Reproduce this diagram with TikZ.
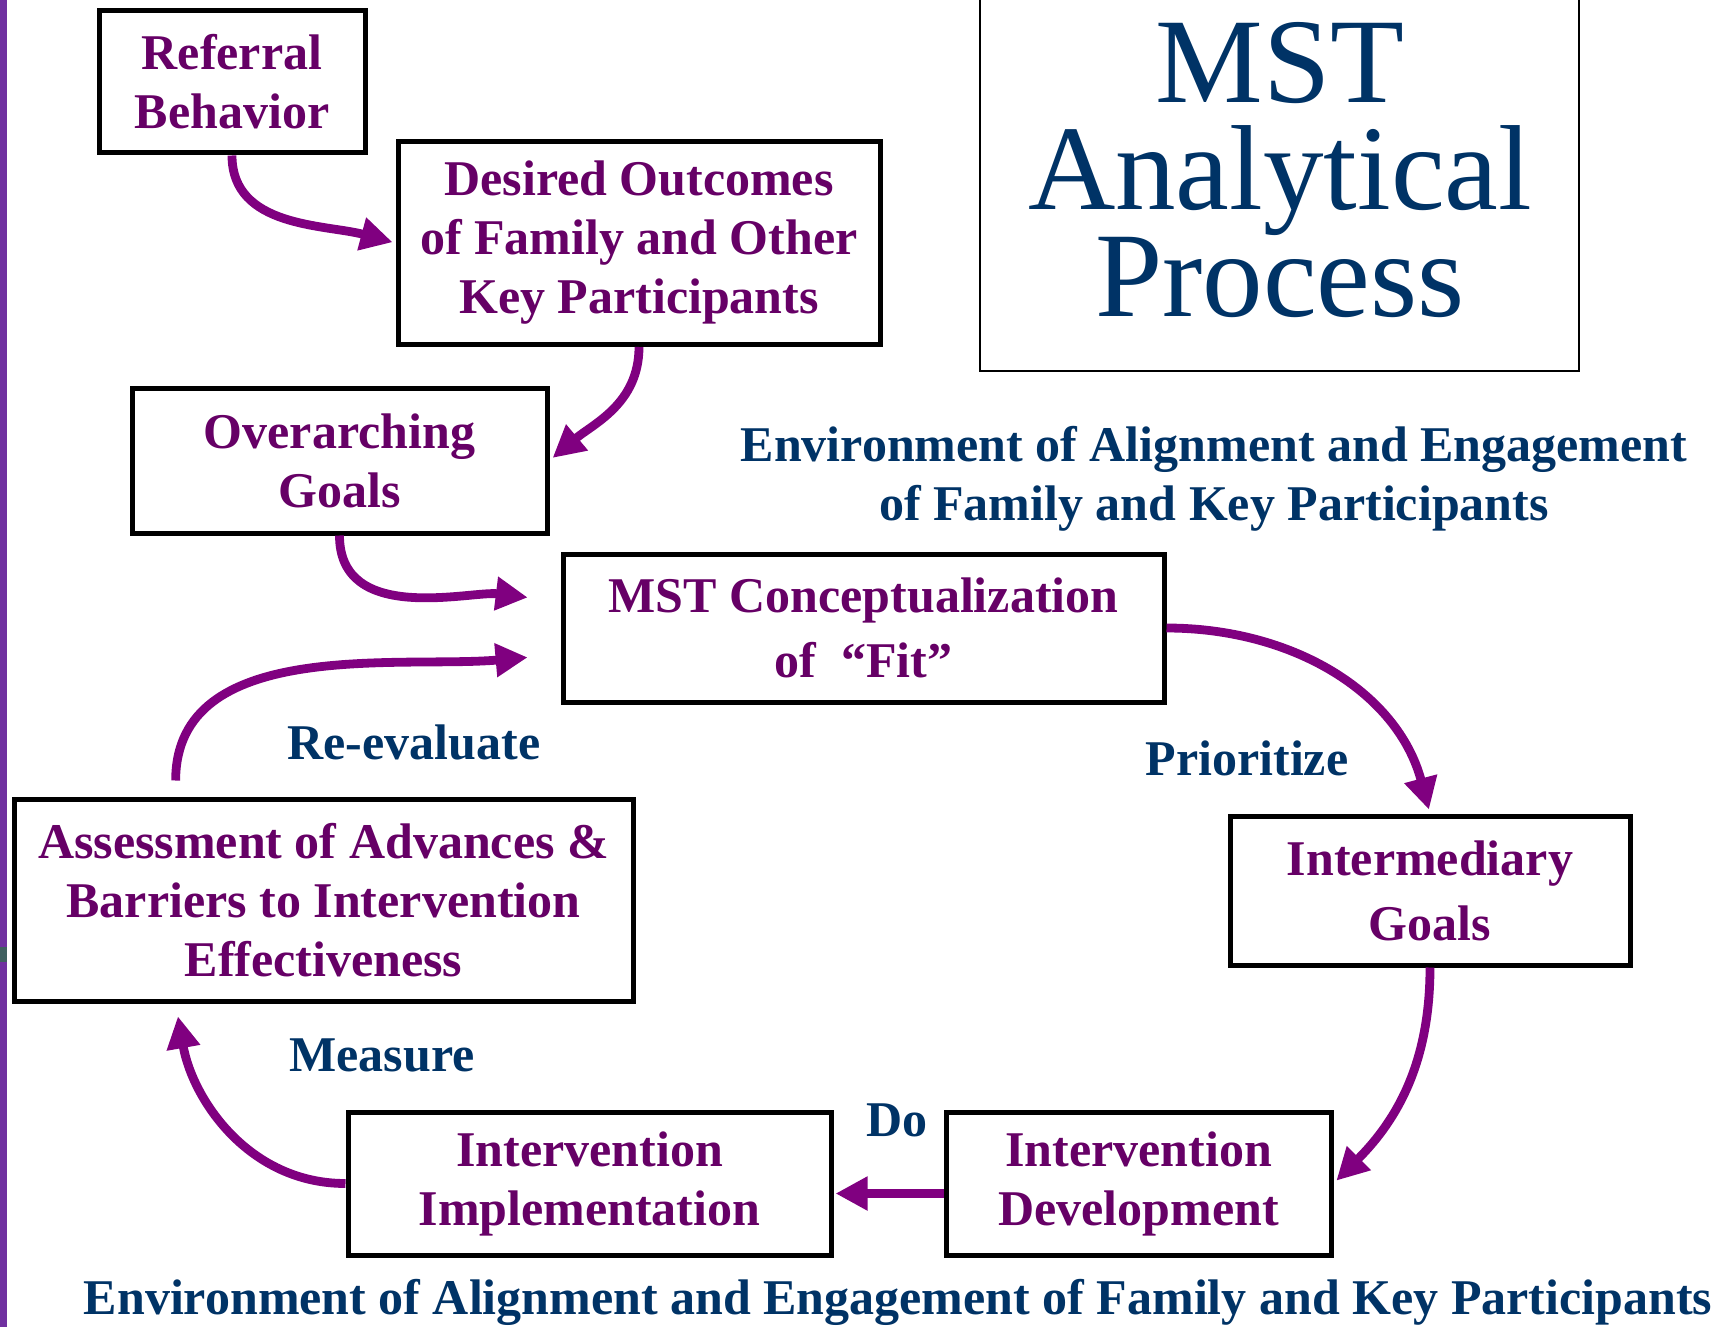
\documentclass[tikz,border=0pt]{standalone}
\usepackage{fontspec}
\setmainfont{Liberation Serif}
\usetikzlibrary{arrows.meta}

\definecolor{plum}{RGB}{102,0,102}
\definecolor{flowpurple}{RGB}{128,0,128}
\definecolor{navy}{RGB}{0,51,102}
\definecolor{barpurple}{RGB}{112,48,160}
\definecolor{barmark}{RGB}{64,96,96}

\tikzset{
	stage/.style={draw=black, line width=2.5pt, fill=white, text=plum, align=center, inner sep=0pt, font=\fontsize{25}{29.5}\selectfont\bfseries},
	widestage/.style={stage, font=\fontsize{25}{32.5}\selectfont\bfseries},
	flow/.style={draw=flowpurple, line width=4.4pt, -{Triangle[length=16pt,width=16pt]}},
	cue/.style={text=navy, align=center, inner sep=0pt, font=\fontsize{25}{29.5}\selectfont\bfseries},
}

\begin{document}
\begin{tikzpicture}[x=0.5pt,y=-0.5pt]

	\useasboundingbox (0,0) rectangle (1719,1327);
	\fill[white] (0,0) rectangle (1719,1327);
	\fill[barpurple] (0,0) rectangle (7,1327);
	\fill[barmark] (0,947) rectangle (7,962);

	\node 	(titlebox)	at	(1279.5,175.5)	[draw, line width=1.2pt, minimum width=299.5pt, minimum height=195.5pt]{};
	\node 	(title)		at	(1280,170) 	[text=navy, align=center, inner sep=0pt, font=\fontsize{60.5}{53.5}\selectfont]{MST\\Analytical\\Process};

	\node 	(ref)		at	(232,82) 	[stage, minimum width=133pt, minimum height=71pt]{Referral\\Behavior};

	\node 	(des)		at	(639,243) 	[stage, minimum width=241pt, minimum height=101.5pt]{Desired Outcomes\\of Family and Other\\Key Participants};

	\node 	(over)		at	(339.5,460.5) 	[stage, minimum width=207.5pt, minimum height=72.5pt]{Overarching\\Goals};

	\node 	(mst)		at	(863.5,628) 	[widestage, minimum width=300.5pt, minimum height=74pt]{MST Conceptualization\\of\ \ “Fit”};

	\node 	(inter)		at	(1430,890.5) 	[widestage, minimum width=200pt, minimum height=74.5pt]{Intermediary\\Goals};

	\node 	(assess)	at	(323.5,900) 	[stage, minimum width=309.5pt, minimum height=101pt]{Assessment of Advances \&\\Barriers to Intervention\\Effectiveness};

	\node 	(impl)		at	(589.5,1183.5) 	[stage, minimum width=241.5pt, minimum height=71.5pt]{Intervention\\Implementation};

	\node 	(dev)		at	(1138.5,1183.5) [stage, minimum width=192.5pt, minimum height=71.5pt]{Intervention\\Development};

	\node 	(envtop)	at	(1214,479) 	[cue]{Environment of Alignment and Engagement\\of Family and Key Participants};
	\node 	(prio)		at	(1247,758) 	[cue]{Prioritize};
	\node 	(reeval)	at	(414,742) 	[cue]{Re-evaluate};
	\node 	(measure)	at	(382,1055) 	[cue]{Measure};
	\node 	(do)		at	(897,1120) 	[cue]{Do};
	\node 	(envbottom)	at	(898,1302) 	[cue]{Environment of Alignment and Engagement of Family and Key Participants};

	\draw[flow, shorten >=1.5pt]	(ref.south)	to[out=-90,in=165]	(des.west);
	\draw[flow, shorten >=2pt]	(des.south)	to[out=-90,in=40]	(over.east);
	\draw[flow, shorten >=16.5pt]	(over.south)	to[out=-90,in=173]	(mst.175);
	\draw[flow, shorten <=8pt, shorten >=16.5pt]	(assess.145)	to[out=90,in=185]	(mst.185);
	\draw[flow, shorten >=2pt]	(mst.east)	to[out=0,in=105]	(inter.north);
	\draw[flow, shorten >=2pt]	(inter.south)	to[out=-90,in=45]	(dev.east);
	\draw[flow, shorten >=1pt]	([yshift=-5pt]dev.west)	--	([yshift=-5pt]impl.east);
	\draw[flow, shorten >=6.5pt]	(impl.west)	to[out=180,in=-80]	(assess.215);

\end{tikzpicture}
\end{document}
